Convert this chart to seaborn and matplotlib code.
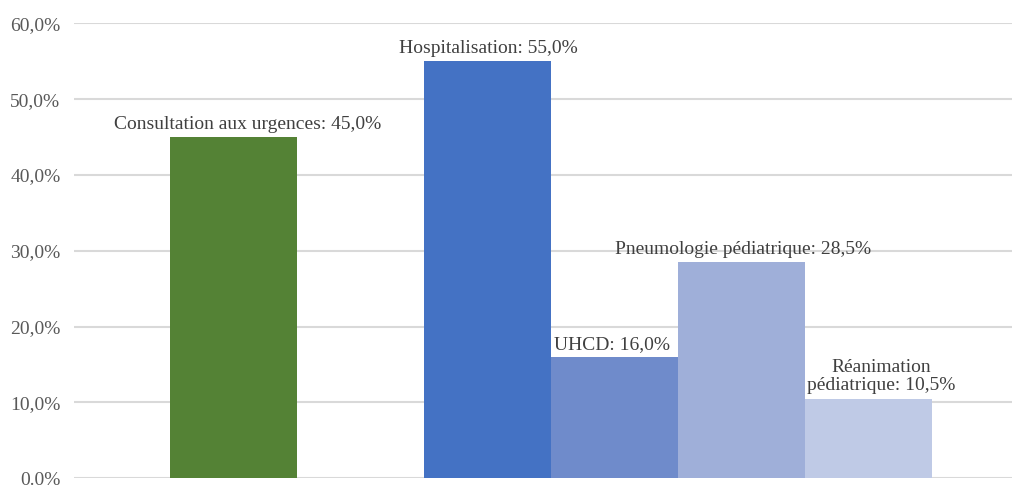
import matplotlib
matplotlib.use("Agg")
import matplotlib.pyplot as plt
import seaborn as sns

# Données
categories = ["Consultation aux urgences", "", "Hospitalisation", "UHCD",
              "Pneumologie pédiatrique", "Réanimation pédiatrique"]
values = [45.0, 0.0, 55.0, 16.0, 28.5, 10.5]
labels = ["Consultation aux urgences: 45,0%", "", "Hospitalisation: 55,0%",
          "UHCD: 16,0%", "Pneumologie pédiatrique: 28,5%",
          "Réanimation\npédiatrique: 10,5%"]
colors = ["#548235", "#ffffff", "#4472C4", "#6F8BCB", "#9FAFD9", "#BFCAE6"]
yticks = [0, 10, 20, 30, 40, 50, 60]
ytick_labels = ["0.0%", "10,0%", "20,0%", "30,0%", "40,0%", "50,0%", "60,0%"]

sns.set_style("white")
plt.rcParams["font.family"] = ["Liberation Serif", "DejaVu Serif"]

fig, ax = plt.subplots(figsize=(10.18, 4.88), dpi=100)
fig.subplots_adjust(left=0.073, right=0.994, top=0.952, bottom=0.02)

sns.barplot(x=categories, y=values, hue=categories, palette=colors,
            width=1.0, legend=False, ax=ax, saturation=1, linewidth=0)

# grille horizontale
ax.set_yticks(yticks)
ax.set_yticklabels(ytick_labels, fontsize=14, color="#595959")
ax.yaxis.grid(True, color="#D9D9D9", linewidth=1.5)
ax.set_axisbelow(True)
ax.set_ylim(0, 60)
ax.set_xlim(-1.254, 6.13)
ax.set_xticks([])
ax.set_xlabel("")
ax.set_ylabel("")
ax.tick_params(axis="y", length=0, pad=10)
for s in ax.spines.values():
    s.set_visible(False)

# étiquettes des barres
dx = [0.11, 0, 0.01, -0.02, 0.01, 0.1]
for i, (v, lab) in enumerate(zip(values, labels)):
    if not lab:
        continue
    ax.annotate(lab, (i + dx[i], v), xytext=(0, 3), textcoords="offset points",
                ha="center", va="bottom", fontsize=14, color="#404040",
                linespacing=1.1)

fig.savefig("out.png", dpi=100)
